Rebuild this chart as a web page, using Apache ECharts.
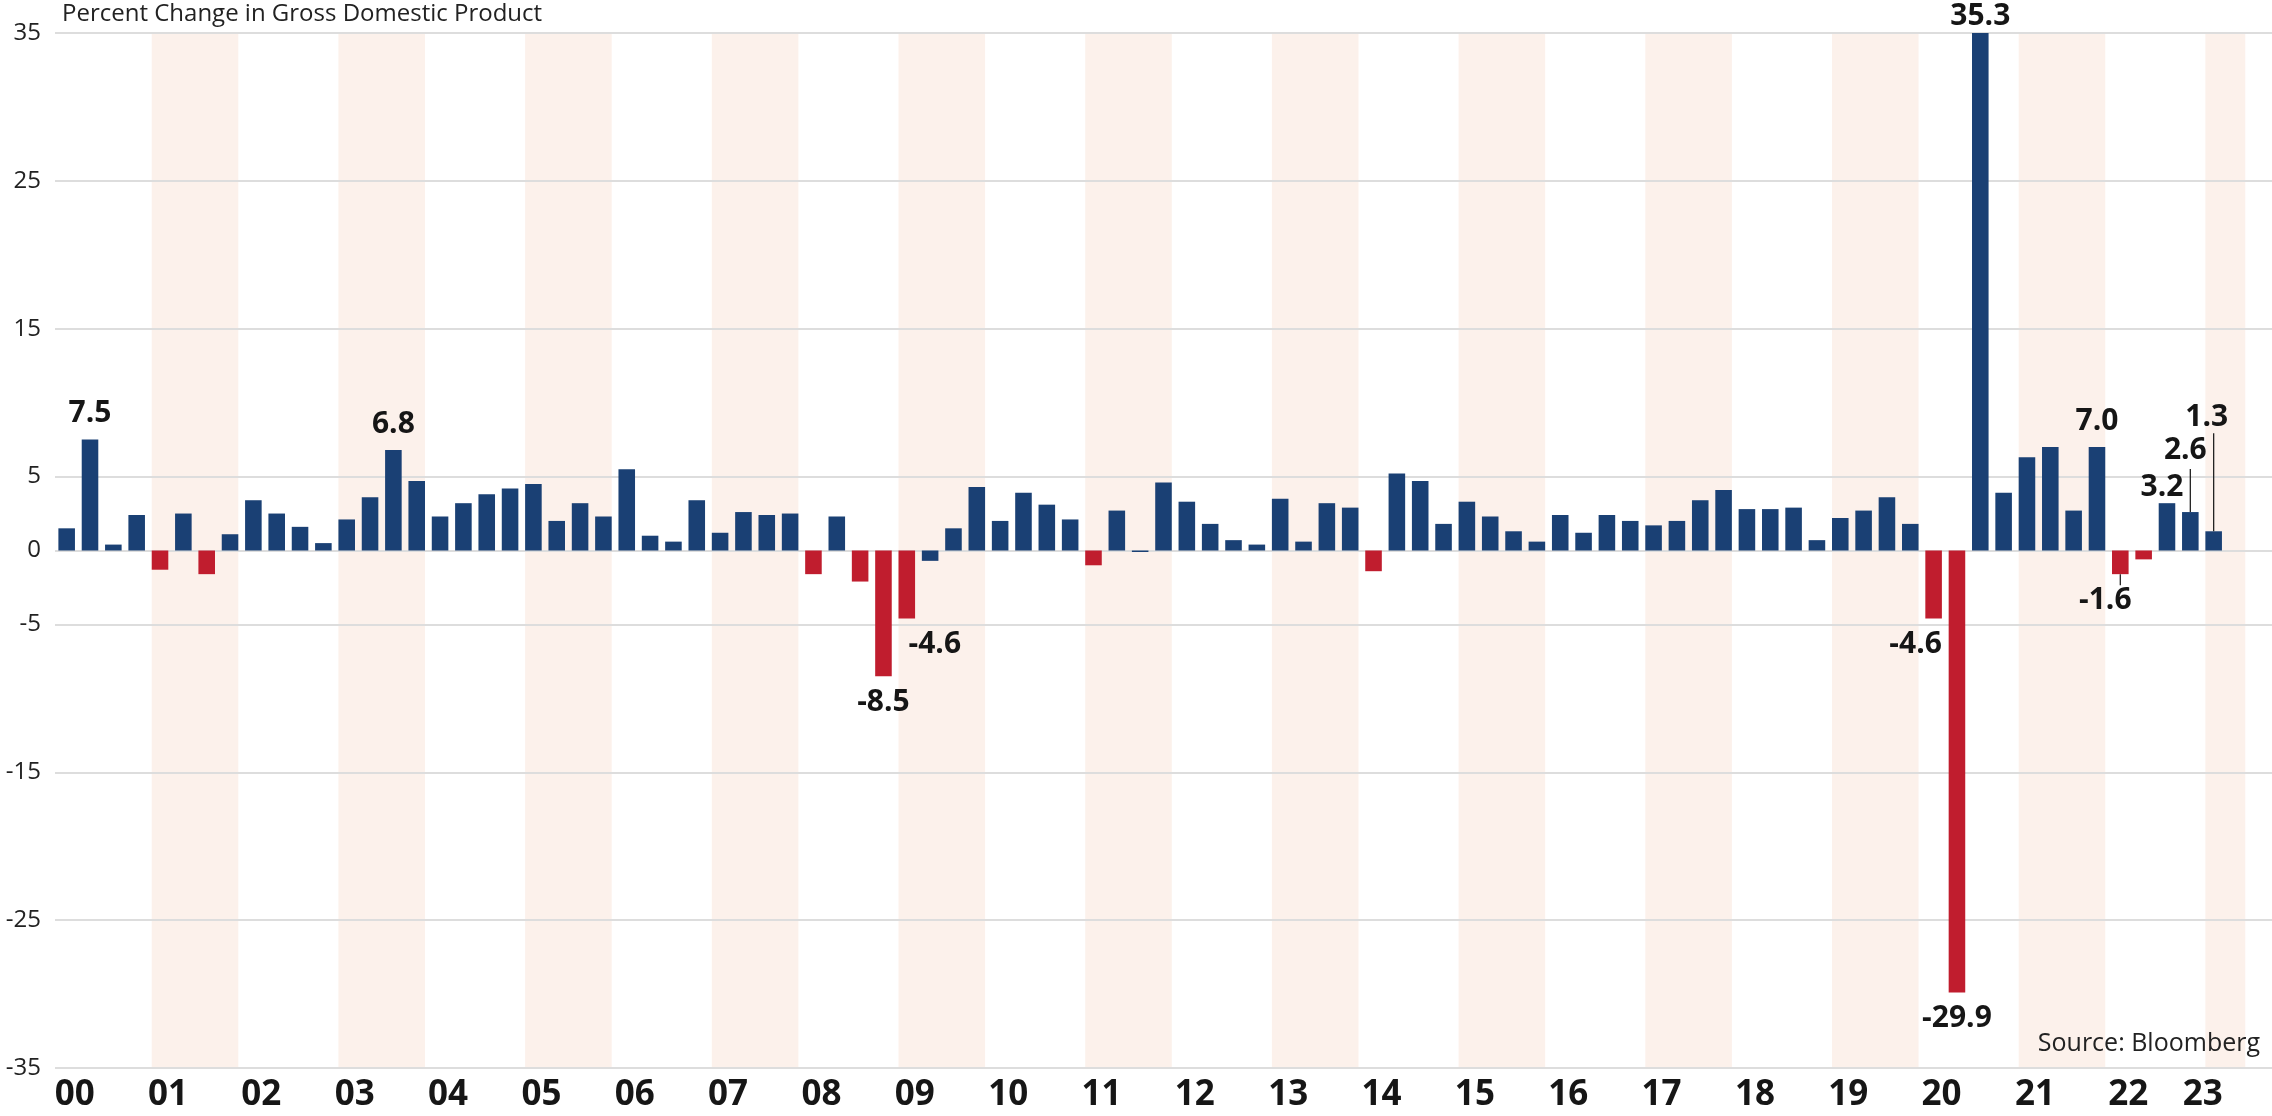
<!DOCTYPE html>
<html>
<head>
<meta charset="utf-8">
<title>Percent Change in Gross Domestic Product</title>
<script src="https://cdn.jsdelivr.net/npm/echarts@6/dist/echarts.min.js"></script>
<style>
  html, body { margin: 0; padding: 0; background: #fff; }
  #chart { width: 2272px; height: 1116px; }
</style>
</head>
<body>
<div id="chart"></div>
<script>
// quarters 2000 Q1 .. 2023 Q1
const years = ['00', '01', '02', '03', '04', '05', '06', '07', '08', '09', '10', '11',
  '12', '13', '14', '15', '16', '17', '18', '19', '20', '21', '22', '23']
const quarterNames = ['Q1', 'Q2', 'Q3', 'Q4']
const categories = years.flatMap(y => quarterNames.map(q => y + ' ' + q)).slice(0, 93)

// percent change in GDP, one value per quarter
const gdpChange = [
  1.5, 7.5, 0.4, 2.4,      // 00
  -1.3, 2.5, -1.6, 1.1,    // 01
  3.4, 2.5, 1.6, 0.5,      // 02
  2.1, 3.6, 6.8, 4.7,      // 03
  2.3, 3.2, 3.8, 4.2,      // 04
  4.5, 2.0, 3.2, 2.3,      // 05
  5.5, 1.0, 0.6, 3.4,      // 06
  1.2, 2.6, 2.4, 2.5,      // 07
  -1.6, 2.3, -2.1, -8.5,   // 08
  -4.6, -0.7, 1.5, 4.3,    // 09
  2.0, 3.9, 3.1, 2.1,      // 10
  -1.0, 2.7, -0.1, 4.6,    // 11
  3.3, 1.8, 0.7, 0.4,      // 12
  3.5, 0.6, 3.2, 2.9,      // 13
  -1.4, 5.2, 4.7, 1.8,     // 14
  3.3, 2.3, 1.3, 0.6,      // 15
  2.4, 1.2, 2.4, 2.0,      // 16
  1.7, 2.0, 3.4, 4.1,      // 17
  2.8, 2.8, 2.9, 0.7,      // 18
  2.2, 2.7, 3.6, 1.8,      // 19
  -4.6, -29.9, 35.3, 3.9,  // 20
  6.3, 7.0, 2.7, 7.0,      // 21
  -1.6, -0.6, 3.2, 2.6,    // 22
  1.3                      // 23
]

// quarters drawn in red
const redQuarters = ['01 Q1', '01 Q3', '08 Q1', '08 Q3', '08 Q4', '09 Q1',
  '11 Q1', '14 Q1', '20 Q1', '20 Q2', '22 Q1', '22 Q2']

// shaded years
const shadedYears = ['01', '03', '05', '07', '09', '11', '13', '15', '17', '19', '21', '23']

// quarters with a value label
const labelledQuarters = ['00 Q2', '03 Q3', '08 Q4', '09 Q1', '20 Q1', '20 Q2',
  '20 Q3', '21 Q4', '22 Q1', '22 Q3', '22 Q4', '23 Q1']

const BLUE = '#1a4074'
const RED = '#c01d2e'
const BAND = '#fcf1eb'
const GRID = '#dddddd'
const INK = '#161616'
const FONT = '"Open Sans", "Noto Sans", sans-serif'
const BAR_RATIO = 0.71

// label nudges and leader line lengths (pixels)
const labelTweaks = {
  '09 Q1': { offset: [28, 0] },
  '20 Q1': { offset: [-18, 0] },
  '20 Q3': { offset: [0, 9] },
  '22 Q1': { offset: [-15, 0], leader: 11 },
  '22 Q3': { offset: [-5, 10] },
  '22 Q4': { offset: [-5, -36], leader: 43 },
  '23 Q1': { offset: [-7, -88], leader: 98 }
}

// two empty slots after the last quarter to finish the axis
const axisCategories = categories.concat(['pad1', 'pad2'])

const barData = gdpChange.map((v, i) => {
  const name = categories[i]
  const item = {
    value: v,
    itemStyle: { color: redQuarters.includes(name) ? RED : BLUE }
  }
  if (labelledQuarters.includes(name)) {
    const tw = labelTweaks[name] || {}
    item.label = {
      show: true,
      position: v < 0 ? 'bottom' : 'top',
      distance: 11,
      offset: tw.offset || [0, 0],
      formatter: v.toFixed(1)
    }
  }
  return item
})

const bandData = shadedYears.map(y => {
  const start = years.indexOf(y) * 4
  return [start, Math.min(start + 3, categories.length)]
})

const leaderKeys = Object.keys(labelTweaks).filter(k => labelTweaks[k].leader)
const leaderData = leaderKeys.map(k => {
  const idx = categories.indexOf(k)
  return [idx, gdpChange[idx]]
})

const chart = echarts.init(document.getElementById('chart'))

const option = {
  animation: false,
  backgroundColor: '#fff',
  title: {
    text: 'Percent Change in Gross Domestic Product',
    left: 62,
    top: 2,
    padding: 0,
    textStyle: { fontFamily: FONT, fontSize: 24, fontWeight: 'normal', color: '#222' }
  },
  graphic: [{
    type: 'text',
    right: 12,
    top: 1031,
    z: 10,
    style: { text: 'Source: Bloomberg', fontFamily: FONT, fontSize: 25, fill: '#222' }
  }],
  grid: { left: 55, right: -14, top: 33, bottom: 48 },
  xAxis: {
    type: 'category',
    data: axisCategories,
    axisLine: { show: false },
    axisTick: { show: false },
    axisLabel: {
      interval: (idx) => idx % 4 === 0 && idx < categories.length,
      margin: 10,
      formatter: (value, idx) => {
        const yr = value.slice(0, 2)
        return idx === categories.length - 1 ? '{l|' + yr + '}' : '{c|' + yr + '}'
      },
      rich: {
        c: { fontFamily: FONT, fontSize: 35, fontWeight: 'bold', color: INK, padding: [0, 0, 0, 16] },
        l: { fontFamily: FONT, fontSize: 35, fontWeight: 'bold', color: INK, padding: [0, 22, 0, 0] }
      }
    }
  },
  yAxis: [
    {
      type: 'value',
      min: -35,
      max: 35,
      interval: 10,
      axisLine: { show: false },
      axisTick: { show: false },
      axisLabel: { margin: 14, fontFamily: FONT, fontSize: 24, color: '#222' },
      splitLine: { lineStyle: { color: GRID, width: 2 } }
    },
    {
      // extra axis for the zero line and its label
      type: 'value',
      position: 'left',
      min: -35,
      max: 35,
      interval: 35,
      axisLine: { show: false },
      axisTick: { show: false },
      axisLabel: {
        margin: 14, fontFamily: FONT, fontSize: 24, color: '#222',
        formatter: v => (v === 0 ? '0' : '')
      },
      splitLine: { lineStyle: { color: GRID, width: 2 } }
    }
  ],
  series: [
    {
      name: 'bands',
      type: 'custom',
      z: -1,
      silent: true,
      encode: { x: [0, 1] },
      data: bandData,
      renderItem: (params, api) => {
        const cs = params.coordSys
        const half = api.size([1, 0])[0] * BAR_RATIO / 2
        const x0 = api.coord([api.value(0), 0])[0] - half
        const x1 = api.coord([api.value(1), 0])[0] + half
        return {
          type: 'rect',
          shape: { x: x0, y: cs.y, width: x1 - x0, height: cs.height },
          style: { fill: BAND }
        }
      }
    },
    {
      name: 'GDP',
      type: 'bar',
      barWidth: (BAR_RATIO * 100) + '%',
      data: barData,
      label: {
        show: false,
        fontFamily: FONT,
        fontSize: 30,
        fontWeight: 'bold',
        color: INK
      }
    },
    {
      name: 'leaders',
      type: 'custom',
      z: 5,
      silent: true,
      data: leaderData,
      renderItem: (params, api) => {
        const v = api.value(1)
        const p = api.coord([api.value(0), v])
        const len = labelTweaks[leaderKeys[params.dataIndex]].leader
        const dir = v < 0 ? 1 : -1
        return {
          type: 'line',
          shape: { x1: p[0], y1: p[1], x2: p[0], y2: p[1] + dir * len },
          style: { stroke: '#222', lineWidth: 1.3 }
        }
      }
    }
  ]
}

chart.setOption(option)
</script>
</body>
</html>
